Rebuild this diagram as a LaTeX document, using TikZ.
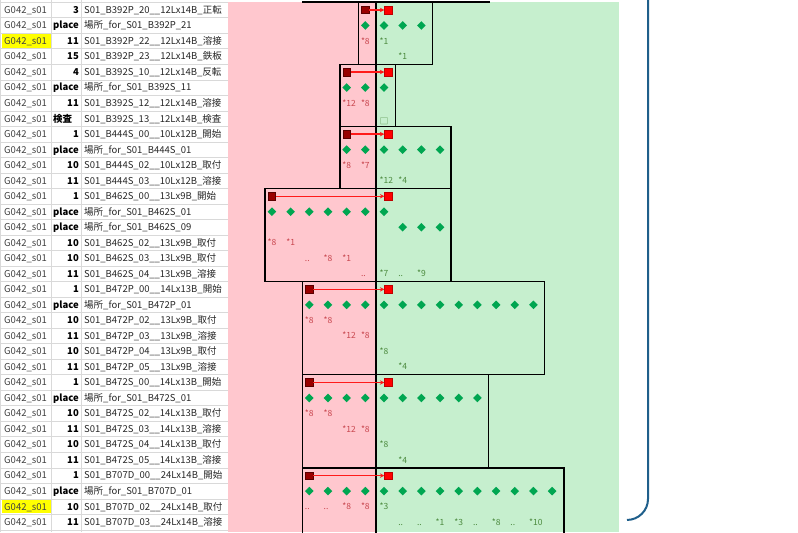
\documentclass[tikz,border=0pt]{standalone}
\usepackage{fontspec}
\setmainfont{Noto Sans CJK JP}
\usetikzlibrary{arrows.meta,shapes.geometric}

\definecolor{cellpink}{HTML}{FFC7CE}
\definecolor{cellgreen}{HTML}{C6EFCE}
\definecolor{gridgrey}{HTML}{D9D9D9}
\definecolor{markyellow}{HTML}{FFFF00}
\definecolor{idgrey}{HTML}{404040}
\definecolor{startred}{HTML}{990000}
\definecolor{startedge}{HTML}{5A0000}
\definecolor{endred}{HTML}{FF0000}
\definecolor{flowred}{HTML}{FF1A1A}
\definecolor{diagreen}{HTML}{00A651}
\definecolor{lblred}{HTML}{C8464E}
\definecolor{lblgreen}{HTML}{4C8A3E}
\definecolor{frameblue}{HTML}{1F5F8B}

\newcommand{\tabfont}{\fontsize{9.5}{11}\selectfont}
\newcommand{\lblfont}{\fontsize{8.5}{9}\selectfont}

\tikzset{
    gridline/.style={draw=gridgrey, line width=0.6pt},
    grpbox/.style={draw=black, line width=1.5pt},
    idtxt/.style={anchor=base west, inner sep=0pt, yshift=-3.4pt, font=\tabfont, text=idgrey},
    numtxt/.style={anchor=base east, inner sep=0pt, yshift=-3.4pt, font=\tabfont\bfseries, text=black},
    kindtxt/.style={numtxt, anchor=base west},
    nametxt/.style={idtxt, text=black!85},
    startsq/.style={rectangle, fill=startred, draw=startedge, line width=0.5pt, minimum size=7.5pt, inner sep=0pt},
    endsq/.style={rectangle, fill=endred, draw=endred!75!black, line width=0.4pt, minimum size=7.5pt, inner sep=0pt},
    flow/.style={draw=flowred, line width=1.3pt, -{Stealth[length=4.5pt,width=4.5pt]}},
    dia/.style={diamond, fill=diagreen, minimum size=8.8pt, inner sep=0pt},
    lblr/.style={anchor=base west, inner sep=0pt, yshift=-3pt, font=\lblfont, text=lblred},
    lblg/.style={lblr, text=lblgreen}
}

\begin{document}
\begin{tikzpicture}[x=1pt, y=-15.52pt]
\useasboundingbox (0,-0.142) rectangle (798,34.14);

% Background areas
\fill[cellpink] (228,0) rectangle (376,34.14);
\fill[cellgreen] (376,0) rectangle (619,34.14);
\fill[markyellow] (1.5,2.06) rectangle (50.5,2.94);
\fill[markyellow] (1.5,32.06) rectangle (50.5,32.94);

% Table grid
\foreach \r in {0,...,34}
    \draw[gridline] (0,\r) -- (228,\r);
\foreach \x in {0.5,51,81}
    \draw[gridline] (\x,-0.142) -- (\x,34.14);

% Table text
\foreach \r in {0,...,33}
    \node[idtxt] (id\r) at (4,\r+0.5) {G042\_s01};
\foreach \r/\n in {0/3, 2/11, 3/15, 4/4, 6/11, 8/1, 10/10, 11/11, 12/1, 15/10, 16/10,
    17/11, 18/1, 20/10, 21/11, 22/10, 23/11, 24/1, 26/10, 27/11, 28/10, 29/11, 30/1,
    32/10, 33/11}
    \node[numtxt] (num\r) at (79,\r+0.5) {\n};
\foreach \r/\n in {1/place, 5/place, 7/検査, 9/place, 13/place, 14/place, 19/place,
    25/place, 31/place}
    \node[kindtxt] (num\r) at (53,\r+0.5) {\n};
\foreach \r/\t in {
    0/S01\_B392P\_20\_\_12Lx14B\_正転,
    1/場所\_for\_S01\_B392P\_21,
    2/S01\_B392P\_22\_\_12Lx14B\_溶接,
    3/S01\_B392P\_23\_\_12Lx14B\_鉄板,
    4/S01\_B392S\_10\_\_12Lx14B\_反転,
    5/場所\_for\_S01\_B392S\_11,
    6/S01\_B392S\_12\_\_12Lx14B\_溶接,
    7/S01\_B392S\_13\_\_12Lx14B\_検査,
    8/S01\_B444S\_00\_\_10Lx12B\_開始,
    9/場所\_for\_S01\_B444S\_01,
    10/S01\_B444S\_02\_\_10Lx12B\_取付,
    11/S01\_B444S\_03\_\_10Lx12B\_溶接,
    12/S01\_B462S\_00\_\_13Lx9B\_開始,
    13/場所\_for\_S01\_B462S\_01,
    14/場所\_for\_S01\_B462S\_09,
    15/S01\_B462S\_02\_\_13Lx9B\_取付,
    16/S01\_B462S\_03\_\_13Lx9B\_取付,
    17/S01\_B462S\_04\_\_13Lx9B\_溶接,
    18/S01\_B472P\_00\_\_14Lx13B\_開始,
    19/場所\_for\_S01\_B472P\_01,
    20/S01\_B472P\_02\_\_13Lx9B\_取付,
    21/S01\_B472P\_03\_\_13Lx9B\_溶接,
    22/S01\_B472P\_04\_\_13Lx9B\_取付,
    23/S01\_B472P\_05\_\_13Lx9B\_溶接,
    24/S01\_B472S\_00\_\_14Lx13B\_開始,
    25/場所\_for\_S01\_B472S\_01,
    26/S01\_B472S\_02\_\_14Lx13B\_取付,
    27/S01\_B472S\_03\_\_14Lx13B\_溶接,
    28/S01\_B472S\_04\_\_14Lx13B\_取付,
    29/S01\_B472S\_05\_\_14Lx13B\_溶接,
    30/S01\_B707D\_00\_\_24Lx14B\_開始,
    31/場所\_for\_S01\_B707D\_01,
    32/S01\_B707D\_02\_\_24Lx14B\_取付,
    33/S01\_B707D\_03\_\_24Lx14B\_溶接}
    \node[nametxt] (nm\r) at (84,\r+0.5) {\t};

% Group boxes
\draw[grpbox] (302,0) -- (490,0);
\draw[grpbox] (358.3,0) rectangle (432.7,4);
\draw[grpbox] (340,4) rectangle (395.7,8);
\draw[grpbox] (340,8) rectangle (451,12);
\draw[grpbox] (265,12) rectangle (451,18);
\draw[grpbox] (302.7,18) rectangle (544.3,24);
\draw[grpbox] (302.7,24) rectangle (488.7,30);
\draw[grpbox] (302.7,34.3) |- (564,30) -- (564,34.3);
\draw[grpbox] (376,0) -- (376,34.3);

% Start and end marks
\node[startsq] (s1) at (365.3,0.5){};
\node[endsq] (e1) at (388.3,0.5){};
\node[startsq] (s2) at (346.7,4.5){};
\node[endsq] (e2) at (388.3,4.5){};
\node[startsq] (s3) at (346.7,8.5){};
\node[endsq] (e3) at (388.3,8.5){};
\node[startsq] (s4) at (271.9,12.5){};
\node[endsq] (e4) at (388.3,12.5){};
\node[startsq] (s5) at (309.3,18.5){};
\node[endsq] (e5) at (388.3,18.5){};
\node[startsq] (s6) at (309.3,24.5){};
\node[endsq] (e6) at (388.3,24.5){};
\node[startsq] (s7) at (309.3,30.5){};
\node[endsq] (e7) at (388.3,30.5){};

% Connection
\draw[flow] (s1) -- (e1);
\draw[flow] (s2) -- (e2);
\draw[flow] (s3) -- (e3);
\draw[flow] (s4) -- (e4);
\draw[flow] (s5) -- (e5);
\draw[flow] (s6) -- (e6);
\draw[flow] (s7) -- (e7);

% Diamonds
\foreach \r/\a/\b in {1/-1/2, 5/-2/0, 9/-2/3, 13/-6/0, 14/1/3, 19/-4/8, 25/-4/5, 31/-4/9}
    \foreach \k in {\a,...,\b}
        \node[dia] (d\r x\k) at ({384+18.68*\k},\r+0.5){};

% Counts
\foreach \k/\r/\t/\c in {-1/2/*8/lblr, 0/2/*1/lblg, 1/3/*1/lblg,
    -2/6/*12/lblr, -1/6/*8/lblr,
    -2/10/*8/lblr, -1/10/*7/lblr, 0/11/*12/lblg, 1/11/*4/lblg,
    -6/15/*8/lblr, -5/15/*1/lblr, -4/16/../lblr, -3/16/*8/lblr, -2/16/*1/lblr,
    -1/17/../lblr, 0/17/*7/lblg, 1/17/../lblg, 2/17/*9/lblg,
    -4/20/*8/lblr, -3/20/*8/lblr, -2/21/*12/lblr, -1/21/*8/lblr, 0/22/*8/lblg, 1/23/*4/lblg,
    -4/26/*8/lblr, -3/26/*8/lblr, -2/27/*12/lblr, -1/27/*8/lblr, 0/28/*8/lblg, 1/29/*4/lblg,
    -4/32/../lblr, -3/32/../lblr, -2/32/*8/lblr, -1/32/*8/lblr, 0/32/*3/lblg,
    1/33/../lblg, 2/33/../lblg, 3/33/*1/lblg, 4/33/*3/lblg, 5/33/../lblg,
    6/33/*8/lblg, 7/33/../lblg, 8/33/*10/lblg}
    \node[\c] (l\r x\k) at ({384+18.68*\k-4.5},\r+0.5){\t};
\node[lblg, anchor=center, yshift=0pt] (chk) at (384,7.5){□};

% Frame
\draw[draw=frameblue, line width=2pt, rounded corners=21pt] (648,-0.2) -- (648,33.36) -- (627,33.36);

\end{tikzpicture}
\end{document}
